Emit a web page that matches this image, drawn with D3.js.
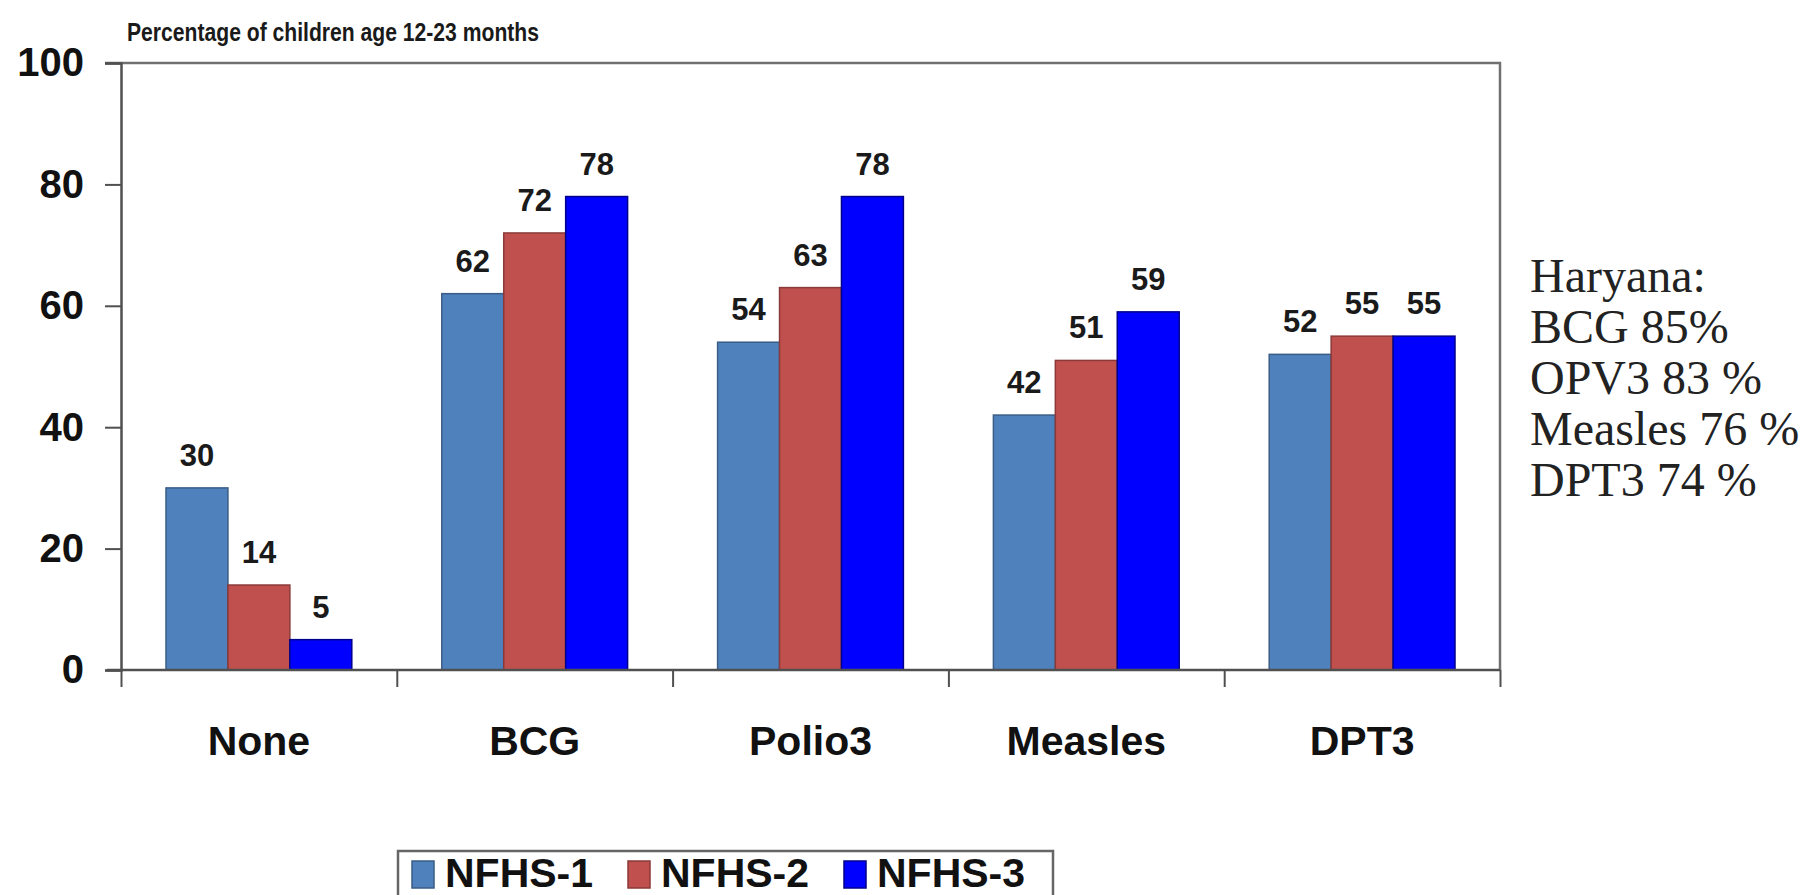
<!DOCTYPE html>
<html>
<head>
<meta charset="utf-8">
<script src="https://cdn.jsdelivr.net/npm/d3@7"></script>
<style>
  body { margin: 0; background: #fff; }
  svg { display: block; }
</style>
</head>
<body>
<svg id="chart" width="1810" height="895"></svg>
<script>
var categories = ["None", "BCG", "Polio3", "Measles", "DPT3"]
var seriesNames = ["NFHS-1", "NFHS-2", "NFHS-3"]
var nfhs1 = [30, 62, 54, 42, 52]
var nfhs2 = [14, 72, 63, 51, 55]
var nfhs3 = [5, 78, 78, 59, 55]
var yTicks = [0, 20, 40, 60, 80, 100]
var noteLines = ["Haryana:", "BCG 85%", "OPV3 83 %", "Measles 76 %", "DPT3 74 %"]

var colors = ["#4f81bd", "#c0504d", "#0000ff"]
var strokes = ["#3a5d86", "#8a3a38", "#00008a"]

var svg = d3.select("svg#chart")
var plotLeft = 121, plotRight = 1500, plotTop = 63, plotBottom = 670

var x0 = d3.scaleBand().domain(categories).range([plotLeft, plotRight]).padding(0)
var groupPad = 45
var x1 = d3.scaleBand().domain(seriesNames).range([groupPad, x0.bandwidth() - groupPad]).padding(0)
var y = d3.scaleLinear().domain([0, 100]).range([plotBottom, plotTop])
var xb = d3.scaleLinear().domain([0, categories.length]).range([plotLeft, plotRight])

var rows = categories.map(function(c, i) {
    return { cat: c, vals: [nfhs1[i], nfhs2[i], nfhs3[i]] }
})

// title
svg.append("text")
    .attr("x", 127).attr("y", 41)
    .attr("textLength", 412).attr("lengthAdjust", "spacingAndGlyphs")
    .style("font-family", "'Liberation Sans', Arial, sans-serif")
    .style("font-weight", "bold").style("font-size", "26px").style("fill", "#1a1a1a")
    .text("Percentage of children age 12-23 months")

// frame top + right
svg.append("path")
    .attr("d", "M" + (plotLeft - 16) + "," + plotTop + "H" + plotRight + "V" + plotBottom)
    .attr("fill", "none").attr("stroke", "#707070").attr("stroke-width", 2.5)

// bars
var g = svg.append("g")
rows.forEach(function(r) {
    r.vals.forEach(function(v, j) {
        var bx = x0(r.cat) + x1(seriesNames[j])
        g.append("rect")
            .attr("x", bx).attr("y", y(v))
            .attr("width", x1.bandwidth()).attr("height", y(0) - y(v))
            .attr("fill", colors[j]).attr("stroke", strokes[j]).attr("stroke-width", 1.5)
        g.append("text")
            .attr("x", bx + x1.bandwidth() / 2).attr("y", y(v) - 22)
            .attr("text-anchor", "middle")
            .style("font-family", "'Liberation Sans', Arial, sans-serif")
            .style("font-weight", "bold").style("font-size", "31px").style("fill", "#1a1a1a")
            .text(v)
    })
})

// y axis
var yAxis = svg.append("g").attr("transform", "translate(" + plotLeft + ",0)")
    .call(d3.axisLeft(y).tickValues(yTicks).tickSize(16).tickPadding(21))
yAxis.select(".domain").attr("stroke", "#505050").attr("stroke-width", 2.5)
yAxis.selectAll(".tick line").attr("stroke", "#505050").attr("stroke-width", 2)
yAxis.selectAll(".tick text")
    .style("font-family", "'Liberation Sans', Arial, sans-serif")
    .style("font-weight", "bold").style("font-size", "40px").style("fill", "#111")

// x axis (ticks on category boundaries)
var xAxis = svg.append("g").attr("transform", "translate(0," + plotBottom + ")")
    .call(d3.axisBottom(xb).tickValues(d3.range(0, categories.length + 1)).tickSize(17).tickFormat(""))
xAxis.select(".domain").attr("d", "M" + (plotLeft - 14) + ",0H" + plotRight).attr("stroke", "#505050").attr("stroke-width", 2.5)
xAxis.selectAll(".tick line").attr("stroke", "#505050").attr("stroke-width", 2)

svg.append("g").selectAll("text").data(categories).enter().append("text")
    .attr("x", function(d) { return x0(d) + x0.bandwidth() / 2 })
    .attr("y", 755)
    .attr("text-anchor", "middle")
    .style("font-family", "'Liberation Sans', Arial, sans-serif")
    .style("font-weight", "bold").style("font-size", "41px").style("fill", "#111")
    .text(function(d) { return d })

// side note
var note = svg.append("g")
noteLines.forEach(function(t, i) {
    note.append("text")
        .attr("x", 1530).attr("y", 292 + i * 51)
        .style("font-family", "'Liberation Serif', 'Times New Roman', serif")
        .style("font-size", "48px").style("fill", "#222")
        .text(t)
})

// legend
var legend = svg.append("g")
legend.append("rect")
    .attr("x", 398).attr("y", 851).attr("width", 655).attr("height", 70)
    .attr("fill", "#fff").attr("stroke", "#666").attr("stroke-width", 2.5)
seriesNames.forEach(function(s, i) {
    var lx = 412 + i * 216
    legend.append("rect")
        .attr("x", lx).attr("y", 861).attr("width", 22).attr("height", 27)
        .attr("fill", colors[i]).attr("stroke", strokes[i]).attr("stroke-width", 1.5)
    legend.append("text")
        .attr("x", lx + 33).attr("y", 887)
        .style("font-family", "'Liberation Sans', Arial, sans-serif")
        .style("font-weight", "bold").style("font-size", "41px").style("fill", "#111")
        .text(s)
})
</script>
</body>
</html>
